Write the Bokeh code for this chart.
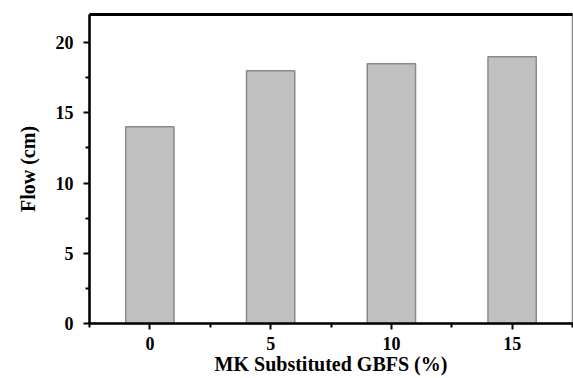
from bokeh.plotting import figure
from bokeh.models import LinearAxis, FixedTicker, Range1d
from bokeh.embed import file_html
from bokeh.resources import INLINE

mk = [0, 5, 10, 15]
flow = [14, 18, 18.5, 19]
y_ticks = [0, 5, 10, 15, 20]

FONT = "Liberation Serif"

p = figure(width=573, height=378, output_backend="svg", toolbar_location=None,
           x_range=Range1d(-2.5, 17.5), y_range=Range1d(0, 22),
           min_border_left=89, min_border_right=1, min_border_top=14, min_border_bottom=55)
p.vbar(x=mk, top=flow, width=2, fill_color="#c0c0c0", line_color="#8a8a8a", line_width=1.5)

p.xgrid.visible = False
p.ygrid.visible = False
p.outline_line_color = "#888888"
p.outline_line_width = 1.5

for ax, ticks in ((p.xaxis[0], mk), (p.yaxis[0], y_ticks)):
    ax.ticker = FixedTicker(ticks=ticks, minor_ticks=[t + 2.5 for t in ticks] + [ticks[0] - 2.5])
    ax.axis_line_width = 2.5
    ax.axis_line_color = "black"
    ax.major_tick_line_width = 2
    ax.minor_tick_line_width = 2
    ax.major_tick_in = 0
    ax.major_tick_out = 6
    ax.minor_tick_in = 0
    ax.minor_tick_out = 4
    ax.major_label_text_font = FONT
    ax.major_label_text_font_style = "bold"
    ax.major_label_text_font_size = "18px"
    ax.major_label_text_color = "black"
    ax.axis_label_text_font = FONT
    ax.axis_label_text_font_style = "bold"
    ax.axis_label_text_font_size = "20px"
    ax.axis_label_text_color = "black"

p.xaxis.axis_label = "MK Substituted GBFS (%)"
p.yaxis.axis_label = "Flow (cm)"
p.xaxis.major_label_standoff = 7
p.xaxis.axis_label_standoff = 0
p.yaxis.major_label_standoff = 10
p.yaxis.axis_label_standoff = 14

top = LinearAxis(major_label_text_font_size="0px", major_tick_line_color=None,
                 minor_tick_line_color=None, axis_line_width=3, axis_line_color="black",
                 major_tick_out=0, major_tick_in=0, minor_tick_out=0, minor_tick_in=0,
                 major_label_standoff=0)
top.ticker = FixedTicker(ticks=[])
p.add_layout(top, "above")

open("out.html", "w").write(file_html(p, INLINE))
